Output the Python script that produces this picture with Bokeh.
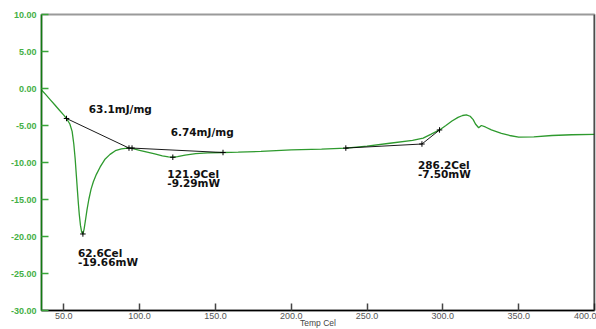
from bokeh.plotting import figure
from bokeh.models import Range1d, FixedTicker, NumeralTickFormatter, Span
from bokeh.core.properties import value
from bokeh.embed import file_html
from bokeh.resources import INLINE

# DSC curve (Temp Cel, mW)
temp = [35.3, 38, 41, 44, 47, 50, 51.8, 54, 55.5, 56.6, 57.5, 58.3, 59, 59.6, 60.2, 61, 61.8, 62.6,
        63.4, 64.3, 65.3, 66.5, 68, 69.5, 71.5, 74, 77, 80.5, 84, 88, 92, 95, 100, 105, 110, 115,
        119, 121.9, 125, 130, 137, 145, 155, 165, 180, 200, 220, 236, 250, 265, 280, 287, 292,
        297.8, 302, 306, 310, 313, 315.5, 318, 320, 321.5, 323.6, 325.4, 328, 332, 338.6, 344,
        350, 360, 372, 385, 400]
heat = [-0.2, -0.8, -1.5, -2.2, -2.9, -3.6, -4.05, -4.8, -5.8, -7.5, -9.5, -11.8, -13.8, -15.5,
        -17.0, -18.5, -19.4, -19.66, -19.0, -17.8, -16.4, -15.0, -13.6, -12.6, -11.6, -10.6, -9.6,
        -8.9, -8.4, -8.15, -8.05, -8.1, -8.35, -8.6, -8.85, -9.1, -9.25, -9.29, -9.2, -9.0, -8.8,
        -8.7, -8.65, -8.6, -8.5, -8.3, -8.2, -8.05, -7.8, -7.4, -7.0, -6.7, -6.2, -5.6, -5.0, -4.4,
        -3.9, -3.65, -3.55, -3.75, -4.2, -4.8, -5.3, -5.0, -5.2, -5.6, -6.05, -6.35, -6.58, -6.55,
        -6.35, -6.25, -6.2]

# integration baselines
base1_x = [51.8, 93.0]
base1_y = [-4.05, -8.05]
base2_x = [95.0, 155.0]
base2_y = [-8.05, -8.65]
base3_x = [236.0, 286.2, 297.8]
base3_y = [-8.05, -7.5, -5.6]

# analysis marks
mark_x = [51.8, 93.0, 95.0, 121.9, 155.0, 62.6, 236.0, 286.2, 297.8]
mark_y = [-4.05, -8.05, -8.05, -9.29, -8.65, -19.66, -8.05, -7.5, -5.6]

# annotation texts
ann_text = ["63.1mJ/mg", "6.74mJ/mg", "121.9Cel", "-9.29mW", "62.6Cel", "-19.66mW", "286.2Cel", "-7.50mW"]
ann_x = [66.5, 120.5, 118.3, 118.3, 59.3, 59.3, 283.6, 283.6]
ann_y = [-2.74, -5.9, -11.6, -12.8, -22.25, -23.5, -10.4, -11.6]

x_ticks = [50, 100, 150, 200, 250, 300, 350, 400]
y_ticks = [-30, -25, -20, -15, -10, -5, 0, 5, 10]

p = figure(frame_width=553, frame_height=296, output_backend="svg", toolbar_location=None,
           x_range=Range1d(35.3, 400), y_range=Range1d(-30, 10),
           min_border_left=41, min_border_right=2, min_border_top=14, min_border_bottom=19)
p.grid.visible = False
p.background_fill_color = "white"
p.border_fill_color = "white"
p.outline_line_color = "#9a9a9a"
p.outline_line_width = 2

GREEN = "#2e9a2e"
p.line(temp, heat, line_color=GREEN, line_width=1.3)
p.line(base1_x, base1_y, line_color="black", line_width=0.9)
p.line(base2_x, base2_y, line_color="black", line_width=0.9)
p.line(base3_x, base3_y, line_color="black", line_width=0.9)
p.scatter(mark_x, mark_y, marker="cross", size=5.5, line_color="black", line_width=1)

p.text(ann_x, ann_y, text=ann_text, text_font=value("DejaVu Sans"), text_font_style="bold",
       text_font_size="10.5px", text_color="#111111", text_baseline="middle", text_align="left")

p.add_layout(Span(location=400, dimension="height", line_color="black", line_width=1.5))

xa = p.xaxis[0]
xa.ticker = FixedTicker(ticks=x_ticks)
xa.formatter = NumeralTickFormatter(format="0.0")
xa.major_tick_in = 7
xa.major_tick_out = 0
xa.minor_tick_line_color = None
xa.axis_line_color = "black"
xa.axis_line_width = 1.5
xa.major_tick_line_color = "#444444"
xa.major_tick_line_width = 1.5
xa.major_label_text_font = "Liberation Sans"
xa.major_label_text_font_size = "9px"
xa.major_label_text_color = "#555555"
xa.major_label_standoff = 2
xa.axis_label = "Temp Cel"
xa.axis_label_text_font = "Liberation Sans"
xa.axis_label_text_font_size = "8.5px"
xa.axis_label_text_font_style = "normal"
xa.axis_label_text_color = "#444444"
xa.axis_label_standoff = -4

ya = p.yaxis[0]
ya.ticker = FixedTicker(ticks=y_ticks)
ya.formatter = NumeralTickFormatter(format="0.00")
ya.major_tick_in = 7
ya.major_tick_out = 0
ya.minor_tick_line_color = None
ya.axis_line_color = "#117a11"
ya.axis_line_width = 1.5
ya.major_tick_line_color = "#3aa53a"
ya.major_tick_line_width = 1.5
ya.major_label_text_font = "Liberation Sans"
ya.major_label_text_font_size = "9px"
ya.major_label_text_font_style = "bold"
ya.major_label_text_color = "#45b045"
ya.major_label_standoff = 5

open("out.html", "w").write(file_html(p, INLINE))
